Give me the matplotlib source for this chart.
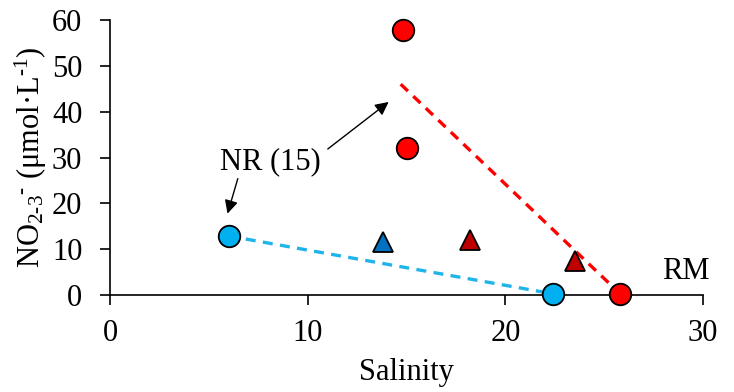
import matplotlib
matplotlib.use('Agg')
import matplotlib.pyplot as plt

plt.rcParams['font.family'] = ['Liberation Serif', 'DejaVu Serif']
plt.rcParams['mathtext.fontset'] = 'custom'
plt.rcParams['mathtext.rm'] = 'Liberation Serif'
plt.rcParams['mathtext.it'] = 'Liberation Serif:italic'

# end members (circles)
nr_sal = [6.0, 14.8, 15.0]
nr_no3 = [12.9, 57.9, 32.1]
nr_col = ['#00B0F0', '#FF0000', '#FF0000']
rm_sal = [22.4, 25.8]
rm_no3 = [0.3, 0.3]
rm_col = ['#00B0F0', '#FF0000']

# triangles
tri_sal = [13.8, 18.2, 23.5]
tri_no3 = [11.6, 12.0, 7.4]
tri_col = ['#0070C0', '#C00000', '#C00000']

# mixing lines
blue_line_x = [6.0, 22.4]
blue_line_y = [12.9, 0.3]
red_line_x = [14.7, 25.8]
red_line_y = [46.0, 0.3]

FS = 22

fig = plt.figure(figsize=(7.34, 3.92), dpi=100)
ax = fig.add_axes([0.150, 0.247, 0.808, 0.702])

ax.plot(blue_line_x, blue_line_y, ls=(0, (3, 2.2)), color='#1FB4EA', lw=2.4, zorder=1)
ax.plot(red_line_x, red_line_y, ls=(0, (3, 2.2)), color='#FF0000', lw=2.4, zorder=1)

for x, y, c in zip(nr_sal + rm_sal, nr_no3 + rm_no3, nr_col + rm_col):
    ax.plot(x, y, 'o', ms=15.5, mfc=c, mec='black', mew=1.3, clip_on=False, zorder=3)
for x, y, c in zip(tri_sal, tri_no3, tri_col):
    ax.plot(x, y, '^', ms=14, mfc=c, mec='black', mew=1.3, clip_on=False, zorder=3)

ax.annotate('', xy=(14.2, 42.5), xytext=(10.9, 31.5),
            arrowprops=dict(arrowstyle='-|>', color='black', lw=1, mutation_scale=20))
ax.annotate('', xy=(5.9, 17.2), xytext=(6.5, 26.0),
            arrowprops=dict(arrowstyle='-|>', color='black', lw=1, mutation_scale=20))
ax.text(8.1, 29.0, 'NR (15)', fontsize=FS, ha='center', va='center')
ax.text(29.1, 5.2, 'RM', fontsize=FS, ha='center', va='center')

ax.set_xlim(0, 30)
ax.set_ylim(0, 60)
ax.set_xticks([0, 10, 20, 30])
ax.set_yticks(range(0, 61, 10))
ax.spines['top'].set_visible(False)
ax.spines['right'].set_visible(False)
ax.tick_params(labelsize=FS, length=7, width=1.2)
ax.tick_params(axis='x', pad=10)
ax.tick_params(axis='y', pad=13)
ax.spines['left'].set_linewidth(1.2)
ax.spines['bottom'].set_linewidth(1.2)
ax.set_xlabel('Salinity', fontsize=FS, labelpad=7)
ax.set_ylabel('NO$_{2\\text{-}3}$$^{\\text{-}}$ (μmol·L$^{\\text{-}1}$)', fontsize=FS, labelpad=2)

fig.savefig('out.png', dpi=100)
